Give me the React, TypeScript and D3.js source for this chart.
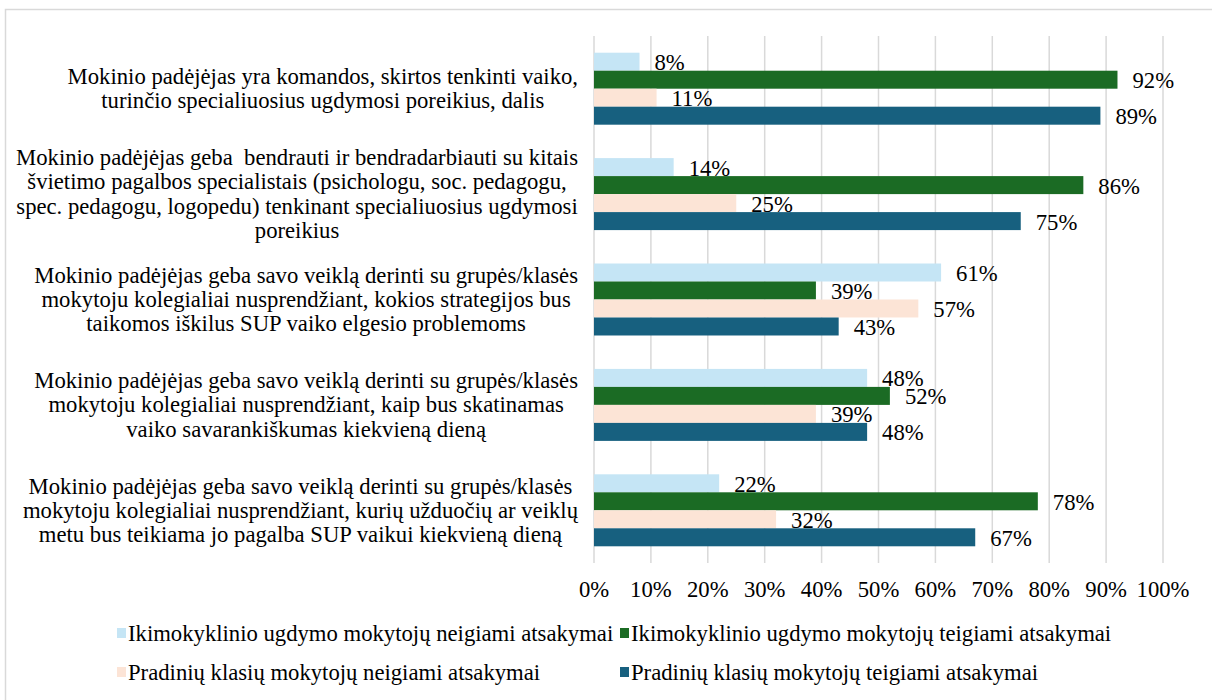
import React, { useEffect, useRef } from "react";
import * as d3 from "d3";

const categories: string[][] = [
  ["Mokinio padėjėjas yra komandos, skirtos tenkinti vaiko,", "turinčio specialiuosius ugdymosi poreikius, dalis"],
  ["Mokinio padėjėjas geba  bendrauti ir bendradarbiauti su kitais", "švietimo pagalbos specialistais (psichologu, soc. pedagogu,", "spec. pedagogu, logopedu) tenkinant specialiuosius ugdymosi", "poreikius"],
  ["Mokinio padėjėjas geba savo veiklą derinti su grupės/klasės", "mokytoju kolegialiai nusprendžiant, kokios strategijos bus", "taikomos iškilus SUP vaiko elgesio problemoms"],
  ["Mokinio padėjėjas geba savo veiklą derinti su grupės/klasės", "mokytoju kolegialiai nusprendžiant, kaip bus skatinamas", "vaiko savarankiškumas kiekvieną dieną"],
  ["Mokinio padėjėjas geba savo veiklą derinti su grupės/klasės", "mokytoju kolegialiai nusprendžiant, kurių užduočių ar veiklų", "metu bus teikiama jo pagalba SUP vaikui kiekvieną dieną"],
];

const seriesNames = [
  "Ikimokyklinio ugdymo mokytojų neigiami atsakymai",
  "Ikimokyklinio ugdymo mokytojų teigiami atsakymai",
  "Pradinių klasių mokytojų neigiami atsakymai",
  "Pradinių klasių mokytojų teigiami atsakymai",
];

const ikiNeg = [8, 14, 61, 48, 22];
const ikiTeig = [92, 86, 39, 52, 78];
const pradNeg = [11, 25, 57, 39, 32];
const pradTeig = [89, 75, 43, 48, 67];

const seriesValues = [ikiNeg, ikiTeig, pradNeg, pradTeig];
const colors = ["#C5E5F5", "#1B6B24", "#FCE4D6", "#17607F"];
const ticks = [0, 10, 20, 30, 40, 50, 60, 70, 80, 90, 100];

const W = 1212;
const H = 700;
const FONT = "'Liberation Serif', 'Times New Roman', serif";
const FS = 22.7;

export default function App() {
  const ref = useRef<SVGSVGElement | null>(null);

  useEffect(() => {
    const svg = d3.select(ref.current);
    svg.selectAll("*").remove();

    svg.append("rect").attr("x", 0).attr("y", 0).attr("width", W).attr("height", H).attr("fill", "#fff");
    svg.append("rect").attr("x", 5.5).attr("y", 9.5).attr("width", W + 10).attr("height", H + 10)
      .attr("fill", "none").attr("stroke", "#D9D9D9").attr("stroke-width", 1.5);

    const x = d3.scaleLinear().domain([0, 100]).range([594, 1163]);
    const y = d3.scaleBand<number>().domain(d3.range(categories.length)).range([36, 563])
      .paddingInner(0.317).paddingOuter(0.1585);
    const ys = d3.scaleBand<number>().domain(d3.range(seriesValues.length)).range([0, y.bandwidth()]);

    const g = svg.append("g").style("font-family", FONT).style("font-size", `${FS}px`);
    g.selectAll("line.grid").data(ticks).enter().append("line")
      .attr("x1", (d) => x(d)).attr("x2", (d) => x(d))
      .attr("y1", 36).attr("y2", 563)
      .attr("stroke", "#D9D9D9").attr("stroke-width", 1.5);

    seriesValues.forEach((vals, si) => {
      g.selectAll(`rect.s${si}`).data(vals).enter().append("rect")
        .attr("x", x(0)).attr("y", (_d, i) => (y(i) as number) + (ys(si) as number))
        .attr("width", (d) => x(d) - x(0)).attr("height", ys.bandwidth())
        .attr("fill", colors[si]);
    });
    seriesValues.forEach((vals, si) => {
      g.selectAll(`text.s${si}`).data(vals).enter().append("text")
        .attr("x", (d) => x(d) + 15)
        .attr("y", (_d, i) => (y(i) as number) + (ys(si) as number) + ys.bandwidth() / 2 + 1)
        .attr("dominant-baseline", "central")
        .attr("fill", "#000")
        .text((d) => `${d}%`);
    });

    g.selectAll("text.tick").data(ticks).enter().append("text")
      .attr("x", (d) => x(d)).attr("y", 589).attr("text-anchor", "middle")
      .attr("dominant-baseline", "central")
      .attr("fill", "#000")
      .text((d) => `${d}%`);

    const lh = 24.3;
    categories.forEach((lines, ci) => {
      const cy = (y(ci) as number) + y.bandwidth() / 2;
      const grp = g.append("g");
      const texts = grp.selectAll("text").data(lines).enter().append("text")
        .attr("y", (_d, li) => cy + (li - (lines.length - 1) / 2) * lh)
        .attr("dominant-baseline", "central")
        .attr("text-anchor", "middle")
        .attr("fill", "#000")
        .style("white-space", "pre")
        .text((d) => d);
      let maxW = 0;
      texts.each(function () {
        const w = (this as SVGTextElement).getComputedTextLength();
        if (w > maxW) maxW = w;
      });
      texts.attr("x", 578 - maxW / 2);
    });

    const legendPos = [
      [117, 633], [620, 633], [117, 672], [620, 672],
    ];
    seriesNames.forEach((name, si) => {
      const [lx, ly] = legendPos[si];
      g.append("rect").attr("x", lx).attr("y", ly - 5).attr("width", 9).attr("height", 10).attr("fill", colors[si]);
      g.append("text").attr("x", lx + 11).attr("y", ly).attr("dominant-baseline", "central")
        .attr("fill", "#000").text(name);
    });
  }, []);

  return (
    <svg ref={ref} width={W} height={H} style={{ position: "absolute", left: 0, top: 0 }} />
  );
}
